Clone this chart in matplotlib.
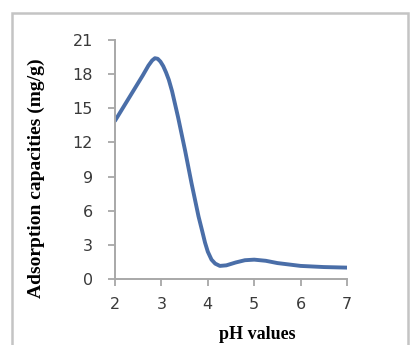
import matplotlib
matplotlib.use("Agg")
import matplotlib.pyplot as plt
from matplotlib.patches import Rectangle

# values
ph = [2.0, 2.3, 2.6, 2.72, 2.8, 2.86, 2.92, 2.98, 3.04, 3.1, 3.16, 3.23, 3.36,
      3.51, 3.65, 3.8, 3.88, 3.94, 4.0, 4.08, 4.16, 4.26, 4.4, 4.6, 4.8, 5.0,
      5.25, 5.5, 6.0, 6.5, 7.0]
capacity = [13.9, 15.9, 17.9, 18.75, 19.2, 19.4, 19.35, 19.1, 18.7, 18.15, 17.5,
            16.5, 14.2, 11.3, 8.4, 5.5, 4.2, 3.2, 2.4, 1.7, 1.35, 1.15, 1.2,
            1.45, 1.65, 1.7, 1.6, 1.4, 1.15, 1.05, 1.0]
x_ticks = [2, 3, 4, 5, 6, 7]
y_ticks = [0, 3, 6, 9, 12, 15, 18, 21]

fig = plt.figure(figsize=(4.14, 3.45), dpi=100)

# outer chart frame
fig.patches.append(Rectangle((12 / 414, -0.05), 396 / 414, 1.05 - 13 / 345,
                             transform=fig.transFigure, fill=False,
                             edgecolor="#c4c4c4", linewidth=1.8))

ax = fig.add_axes([115 / 414, 1 - 279 / 345, 232 / 414, 239 / 345])
ax.plot(ph, capacity, color="#4a6ea8", linewidth=2.8,
        solid_joinstyle="round", solid_capstyle="round")

ax.set_xlim(2, 7)
ax.set_ylim(0, 21)
ax.set_xticks(x_ticks)
ax.set_yticks(y_ticks)
ax.tick_params(colors="#a0a0a0", length=5, width=1.2, labelcolor="#3a3a3a",
               labelsize=11.5)
ax.tick_params(axis="y", pad=11)
ax.tick_params(axis="x", pad=8)
for s in ["top", "right"]:
    ax.spines[s].set_visible(False)
for s in ["left", "bottom"]:
    ax.spines[s].set_color("#a8a8a8")
    ax.spines[s].set_linewidth(1.4)

ax.set_xlabel("pH values", family="Liberation Serif", weight="bold",
              fontsize=13)
ax.set_ylabel("Adsorption capacities (mg/g)", family="Liberation Serif",
              weight="bold", fontsize=14)
ax.xaxis.set_label_coords(0.612, -0.195)
ax.yaxis.set_label_coords(-0.30, 0.42)

fig.savefig("out.png", dpi=100)
